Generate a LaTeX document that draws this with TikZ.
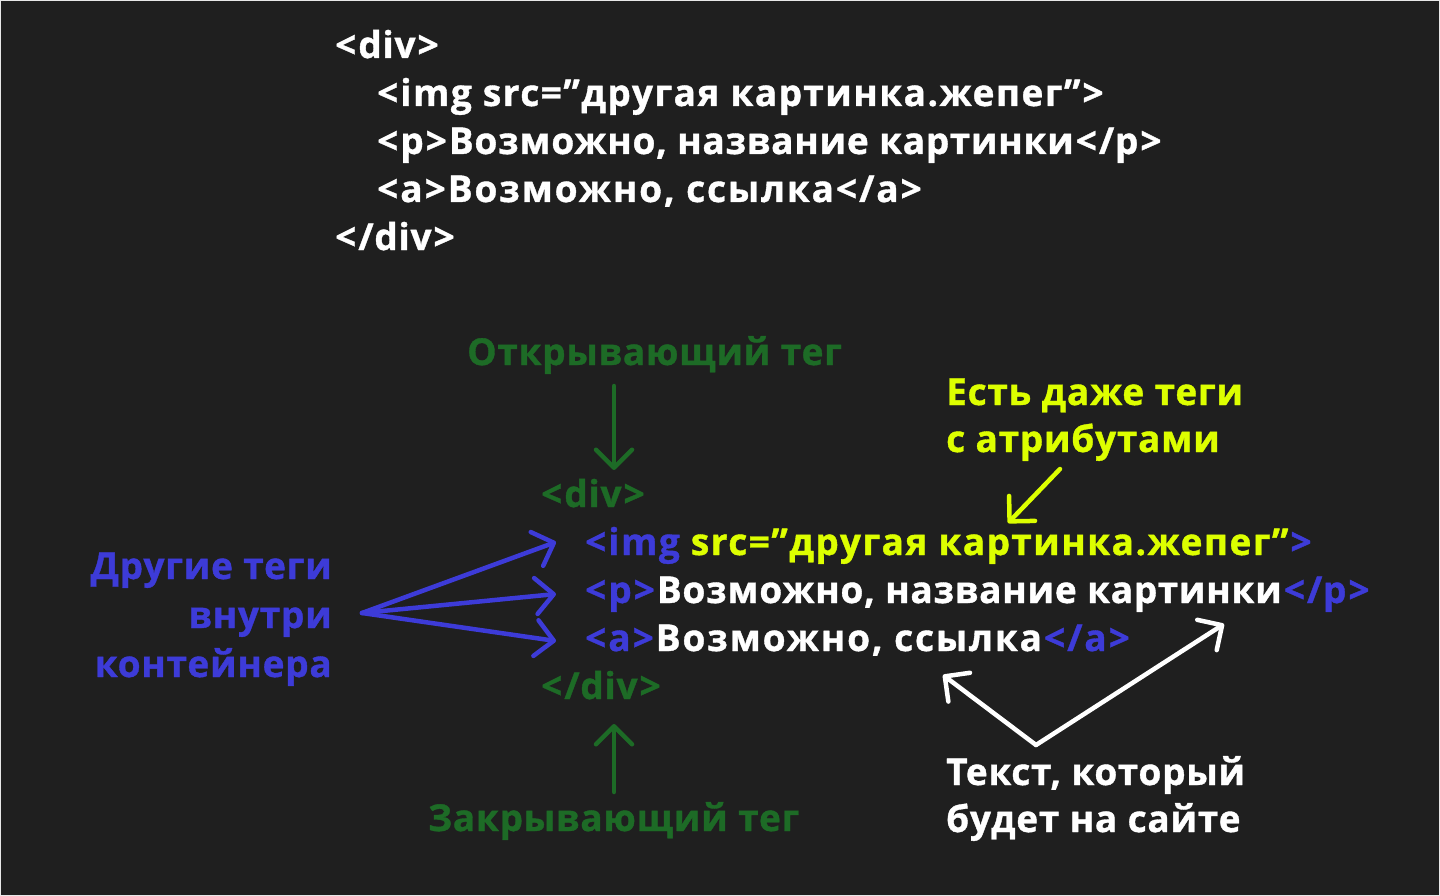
\documentclass[tikz,border=0pt]{standalone}
\usepackage{fontspec}
\setmainfont{Open Sans}[LetterSpace=2.0, BoldFeatures={FakeBold=1}]
\usetikzlibrary{arrows.meta}
\definecolor{bg}{HTML}{1F1F1F}
\definecolor{edge}{HTML}{E8E8E8}
\definecolor{tgreen}{HTML}{1D6B26}
\definecolor{tblue}{HTML}{3D3BD8}
\definecolor{tyellow}{HTML}{DDFF00}
\newcommand{\LT}{\kern2pt<\kern2pt}
\newcommand{\GT}{\kern2pt>\kern2pt}
\begin{document}
\begin{tikzpicture}[x=1pt,y=-1pt,
  txt/.style={inner sep=0pt, anchor=base west, text=white, font=\fontsize{37}{48}\selectfont\bfseries},
  rtxt/.style={txt, anchor=base east},
  wide/.style={font=\fontsize{37}{48}\selectfont\bfseries\addfontfeature{LetterSpace=4.0}},
  wider/.style={font=\fontsize{37}{48}\selectfont\bfseries\addfontfeature{LetterSpace=5.0}},
  arr/.style={line width=4.5pt, line cap=round, -{Straight Barb[length=18pt,width=36pt,round]}}]
\useasboundingbox (0,0) rectangle (1440,896);
\fill[edge] (0,0) rectangle (1440,896);
\fill[bg] (1,1) rectangle (1439,895);

% top code block
\node[txt] (t1) at (333,58) {\LT div\GT};
\node[txt, wide] (t2) at (375,106) {\LT img src=”другая картинка.жепег”\GT};
\node[txt] (t3) at (375,154) {\LT p\GT Возможно, название картинки\LT/p\GT};
\node[txt, wider] (t4) at (375,202) {\LT a\GT Возможно, ссылка\LT/a\GT};
\node[txt] (t5) at (333,250) {\LT/div\GT};

% annotated block
\node[txt, text=tgreen] (b1) at (539,507) {\LT div\GT};
\node[txt, wide] (b2) at (583,555) {\textcolor{tblue}{\LT img} \textcolor{tyellow}{src=”другая картинка.жепег”}\textcolor{tblue}{\GT}};
\node[txt] (b3) at (583,603) {\textcolor{tblue}{\LT p\GT}Возможно, название картинки\textcolor{tblue}{\LT/p\GT}};
\node[txt, wider] (b4) at (583,651) {\textcolor{tblue}{\LT a\GT}Возможно, ссылка\textcolor{tblue}{\LT/a\GT}};
\node[txt, text=tgreen] (b5) at (539,699) {\LT/div\GT};

% labels
\node[txt, text=tgreen] (open) at (467,365) {Открывающий тег};
\node[txt, text=tgreen] (close) at (428,831) {Закрывающий тег};
\node[txt, text=tyellow] (attr1) at (946,405) {Есть даже теги};
\node[txt, text=tyellow] (attr2) at (946,452) {с атрибутами};
\node[txt] (site1) at (946,785) {Текст, который};
\node[txt] (site2) at (946,832) {будет на сайте};
\node[rtxt, text=tblue] (oth1) at (332,579) {Другие теги};
\node[rtxt, text=tblue] (oth2) at (332,628) {внутри};
\node[rtxt, text=tblue] (oth3) at (332,677) {контейнера};

% arrow end points
\coordinate (gd0) at (614,386);
\coordinate (gd1) at (614,470);
\coordinate (gu0) at (614,792);
\coordinate (gu1) at (614,724);
\coordinate (y0) at (1060,469);
\coordinate (y1) at (1008,523);
\coordinate (bl0) at (362,613);
\coordinate (bla) at (556,542);
\coordinate (blb) at (556,594);
\coordinate (blc) at (556,641);
\coordinate (w0) at (1036,745);
\coordinate (wa) at (943,675);
\coordinate (wb) at (1224,624);

\draw[arr, tgreen] (gd0) -- (gd1);
\draw[arr, tgreen] (gu0) -- (gu1);
\draw[arr, tyellow] (y0) -- (y1);
\draw[arr, tblue] (bl0) -- (bla);
\draw[arr, tblue] (bl0) -- (blb);
\draw[arr, tblue] (bl0) -- (blc);
\draw[arr, white] (w0) -- (wa);
\draw[arr, white] (w0) -- (wb);
\end{tikzpicture}
\end{document}
